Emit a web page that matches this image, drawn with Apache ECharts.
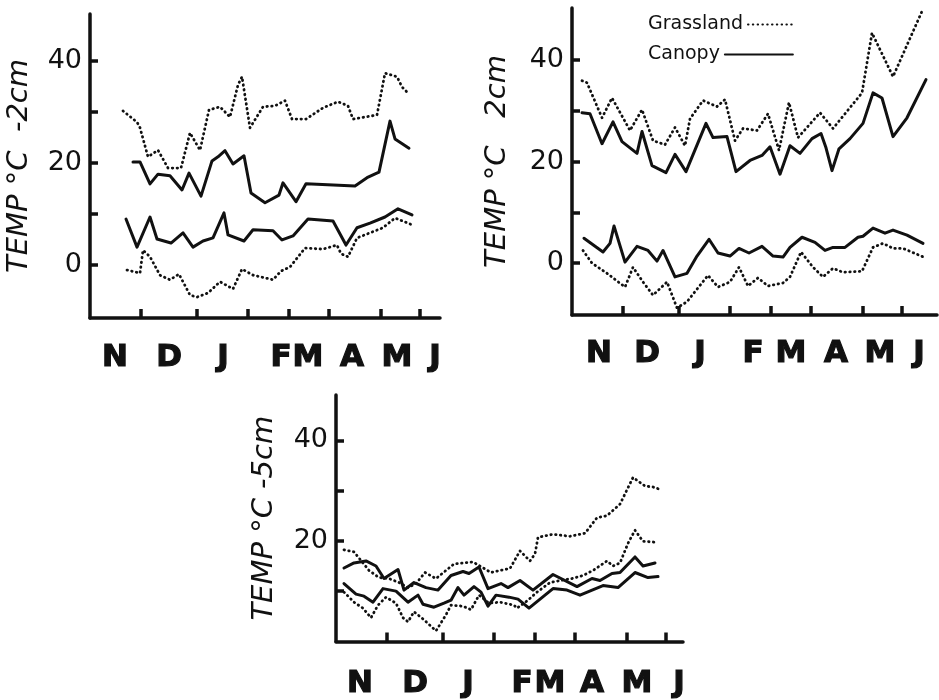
<!DOCTYPE html>
<html><head><meta charset="utf-8">
<script src="https://cdn.jsdelivr.net/npm/echarts@6/dist/echarts.min.js"></script>
<style>html,body{margin:0;padding:0;background:#fff}#c{width:939px;height:700px}</style>
</head><body><div id="c"></div>
<script>
// x values: position along the time axis (figure units from axis origin), month boundaries at ticks
const monthTicks = [51, 107, 158, 199, 239, 291, 330];
const monthNames = ['N', 'D', 'J', 'F', 'M', 'A', 'M', 'J'];
const monthPos1 = [25, 79, 133, 191, 218, 262, 307, 345];
const monthPos2 = [27, 75, 128, 181, 219, 264, 308, 347];
const monthPos3 = [24, 79, 132, 186, 214, 256, 301, 343];
const yTicksTop = [0, 10, 20, 30, 40];
const yLabelsTop = [0, 20, 40];
const yTicksBottom = [10, 20, 30, 40];
const yLabelsBottom = [20, 40];

// Panel 1: -2 cm
const p1GrassMaxX = [33,47,50,58,68,78,91,100,110,119,130,140,148,152,160,173,185,195,202,216,233,248,258,263,287,295,307,312,319];
const p1GrassMaxY = [30.2,28.0,26.9,21.2,22.5,19.0,19.0,25.9,22.5,30.4,31.0,29.0,35.3,36.9,26.9,31.0,31.2,32.2,28.6,28.6,30.8,32.0,31.2,28.6,29.4,37.6,36.9,34.9,33.5];
const p1CanMaxX = [43,50,60,68,80,92,99,111,122,128,135,143,154,161,175,189,193,206,216,265,277,289,300,305,319];
const p1CanMaxY = [20.2,20.2,15.9,17.8,17.5,14.7,18.0,13.5,20.4,21.2,22.4,19.8,21.4,14.1,12.2,13.7,16.1,12.4,15.9,15.5,17.1,18.2,28.2,24.7,22.9];
const p1CanMinX = [36,47,60,67,81,93,103,113,123,134,138,154,163,183,192,203,218,243,256,267,280,295,308,322];
const p1CanMinY = [9.0,3.5,9.4,5.1,4.3,6.3,3.5,4.7,5.3,10.2,5.9,4.7,6.9,6.7,4.9,5.7,9.0,8.6,3.9,7.3,8.2,9.4,11.0,9.8];
const p1GrassMinX = [37,50,53,60,70,80,89,100,107,118,130,143,152,163,183,191,200,215,233,247,251,258,267,280,293,305,323];
const p1GrassMinY = [-1.0,-1.6,2.9,1.6,-2.0,-2.9,-1.8,-5.9,-6.3,-5.5,-3.3,-4.7,-0.8,-2.0,-2.9,-1.2,-0.4,3.3,3.1,3.9,2.2,1.6,5.3,6.3,7.3,9.2,7.8];

// Panel 2: 2 cm
const p2GrassMaxX = [10,15,30,40,58,70,81,93,103,113,118,131,145,153,163,171,185,196,207,217,226,248,261,290,300,321,351];
const p2GrassMaxY = [35.9,35.5,28.6,32.5,26.1,30.2,24.1,23.3,26.7,23.1,28.4,32.0,30.8,32.2,24.1,26.5,26.1,29.4,22.2,31.6,24.7,29.6,26.5,33.5,45.3,36.7,50.0];
const p2CanMaxX = [10,18,30,41,50,65,70,80,94,103,114,134,141,155,164,178,190,198,208,218,228,240,249,254,260,267,278,291,301,310,321,335,354];
const p2CanMaxY = [29.6,29.4,23.5,27.8,23.9,21.6,25.9,19.2,17.8,21.4,18.0,27.5,24.7,24.9,18.0,20.2,21.2,22.9,17.5,23.1,21.6,24.5,25.5,22.7,18.2,22.5,24.5,27.5,33.5,32.5,24.9,28.6,36.1];
const p2CanMinX = [12,31,38,42,53,65,76,85,91,103,115,125,137,146,158,167,177,190,201,211,218,230,243,253,261,273,286,291,301,313,321,335,351];
const p2CanMinY = [4.9,2.2,3.9,7.3,0.2,3.3,2.5,0.4,2.5,-2.7,-2.0,1.4,4.7,2.0,1.4,2.9,2.0,3.3,1.4,1.2,3.1,5.1,4.1,2.5,3.1,3.1,5.1,5.3,6.9,5.9,6.5,5.5,3.9];
const p2GrassMinX = [11,20,35,53,61,71,81,95,105,115,136,146,158,167,176,186,196,211,218,229,241,251,261,271,290,301,311,321,331,354];
const p2GrassMinY = [2.5,0,-2.0,-4.7,-0.8,-3.7,-6.3,-3.7,-8.8,-7.6,-2.4,-4.7,-3.7,-0.8,-4.5,-2.9,-4.5,-3.9,-2.7,2.2,-0.8,-2.7,-1.0,-1.8,-1.6,3.1,3.9,2.9,2.9,1.0];

// Panel 3: -5 cm
const p3GrassMaxX = [8,18,27,33,43,53,63,72,80,89,100,118,137,155,164,174,184,194,199,202,217,234,249,261,271,284,297,309,317,326];
const p3GrassMaxY = [18.2,17.8,15.6,14.1,12.7,12.5,11.7,10.7,11.5,13.7,12.5,15.4,15.8,13.7,14.1,14.5,18.0,16.0,17.4,20.7,21.3,20.9,21.5,24.6,25.0,27.3,32.6,30.9,30.7,30.1];
const p3GrassMinX = [8,18,27,35,42,50,60,67,72,78,88,100,110,115,127,135,143,153,164,178,181,192,201,214,224,236,247,257,271,277,284,292,299,307,322];
const p3GrassMinY = [9.8,7.8,6.6,4.7,7.2,8.8,7.6,4.7,3.9,5.9,4.3,2.1,5.3,7.2,7.0,6.3,9.2,7.6,7.8,7.2,6.6,8.2,9.8,11.7,12.1,12.5,13.1,14.1,16.0,15.0,15.6,19.5,22.1,19.9,19.7];
const p3CanMaxX = [8,18,30,40,48,62,68,78,90,102,115,127,133,143,152,165,172,184,197,217,241,256,264,276,284,299,307,319];
const p3CanMaxY = [14.6,15.6,16.0,15.0,12.5,14.3,10.2,11.7,10.7,10.2,13.1,13.9,13.5,14.8,10.5,11.5,10.7,12.1,10.2,13.3,10.9,12.5,12.1,13.5,13.7,16.8,15.0,15.6];
const p3CanMinX = [8,20,28,37,47,60,72,82,87,98,108,115,122,128,138,145,152,160,173,182,193,217,231,244,267,282,299,312,322];
const p3CanMinY = [11.5,9.4,9.0,7.8,10.5,10.0,7.8,9.2,7.4,6.8,7.6,8.2,10.7,9.2,10.9,9.8,7.0,9.2,8.8,8.4,6.6,10.5,10.2,9.2,11.1,10.7,13.7,12.7,12.9];

const zip = (xs, ys) => xs.map((x, i) => [x, ys[i]]);
const BLACK = '#111';
const solid = { color: BLACK, width: 3, type: 'solid', cap: 'round', join: 'round' };
const dotted = { color: BLACK, width: 2.8, type: [0.5, 4.3], cap: 'round', join: 'round' };

function line(name, xs, ys, idx, style) {
  return { type: 'line', name, data: zip(xs, ys), xAxisIndex: idx, yAxisIndex: idx,
    symbol: 'none', lineStyle: style, itemStyle: { color: BLACK }, silent: true, clip: false };
}
function xAxis(idx, max, pos, margin) {
  return { type: 'value', gridIndex: idx, min: 0, max,
    axisLine: { show: true, onZero: false, lineStyle: { color: BLACK, width: 3.5 } },
    axisTick: { show: true, inside: true, length: 9, customValues: monthTicks, lineStyle: { color: BLACK, width: 3.5 } },
    axisLabel: { show: true, customValues: pos, margin,
      formatter: v => monthNames[pos.indexOf(v)],
      fontFamily: 'DejaVu Sans', fontWeight: 'bold', fontSize: 31, color: BLACK,
      textBorderColor: BLACK, textBorderWidth: 1.2 },
    splitLine: { show: false } };
}
function yAxis(idx, min, max, name, gap, ticks, labels) {
  return { type: 'value', gridIndex: idx, min, max, name, nameLocation: 'middle', nameGap: gap, nameRotate: 90,
    nameTextStyle: { fontFamily: 'DejaVu Sans', fontStyle: 'italic', fontSize: 29, color: BLACK },
    axisLine: { show: true, onZero: false, lineStyle: { color: BLACK, width: 3.5 } },
    axisTick: { show: true, inside: true, length: 8, customValues: ticks, lineStyle: { color: BLACK, width: 3.5 } },
    axisLabel: { show: true, customValues: labels, margin: 8,
      fontFamily: 'DejaVu Sans', fontSize: 27, color: BLACK },
    splitLine: { show: false } };
}

const chart = echarts.init(document.getElementById('c'), null, { renderer: 'canvas' });
chart.setOption({
  animation: false,
  backgroundColor: '#fff',
  grid: [
    { left: 90, top: 14, width: 350, height: 304 },
    { left: 572, top: 8, width: 365, height: 307 },
    { left: 336, top: 395, width: 347, height: 250 }
  ],
  xAxis: [xAxis(0, 350, monthPos1, 24), xAxis(1, 365, monthPos2, 23), xAxis(2, 347, monthPos3, 27)],
  yAxis: [
    yAxis(0, -10.4, 49.2, 'TEMP °C  -2cm', 56, yTicksTop, yLabelsTop),
    yAxis(1, -10.2, 50.2, 'TEMP °C   2cm', 60, yTicksTop, yLabelsTop),
    yAxis(2, 0, 49, 'TEMP °C -5cm', 57, yTicksBottom, yLabelsBottom)
  ],
  legend: [
    { data: ['Grassland'], left: 643, top: 10, align: 'right', itemWidth: 46, itemHeight: 10, itemGap: 2,
      itemStyle: { opacity: 0 },
      textStyle: { fontFamily: 'DejaVu Sans', fontSize: 19, color: BLACK }, selectedMode: false },
    { data: ['Canopy'], left: 643, top: 40, align: 'right', itemWidth: 68, itemHeight: 10, itemGap: 2,
      itemStyle: { opacity: 0 },
      textStyle: { fontFamily: 'DejaVu Sans', fontSize: 19, color: BLACK }, selectedMode: false }
  ],
  series: [
    line('Grassland', p1GrassMaxX, p1GrassMaxY, 0, dotted),
    line('Canopy', p1CanMaxX, p1CanMaxY, 0, solid),
    line('Canopy', p1CanMinX, p1CanMinY, 0, solid),
    line('Grassland', p1GrassMinX, p1GrassMinY, 0, dotted),
    line('Grassland', p2GrassMaxX, p2GrassMaxY, 1, dotted),
    line('Canopy', p2CanMaxX, p2CanMaxY, 1, solid),
    line('Canopy', p2CanMinX, p2CanMinY, 1, solid),
    line('Grassland', p2GrassMinX, p2GrassMinY, 1, dotted),
    line('Grassland', p3GrassMaxX, p3GrassMaxY, 2, dotted),
    line('Grassland', p3GrassMinX, p3GrassMinY, 2, dotted),
    line('Canopy', p3CanMaxX, p3CanMaxY, 2, solid),
    line('Canopy', p3CanMinX, p3CanMinY, 2, solid)
  ]
});
</script></body></html>
